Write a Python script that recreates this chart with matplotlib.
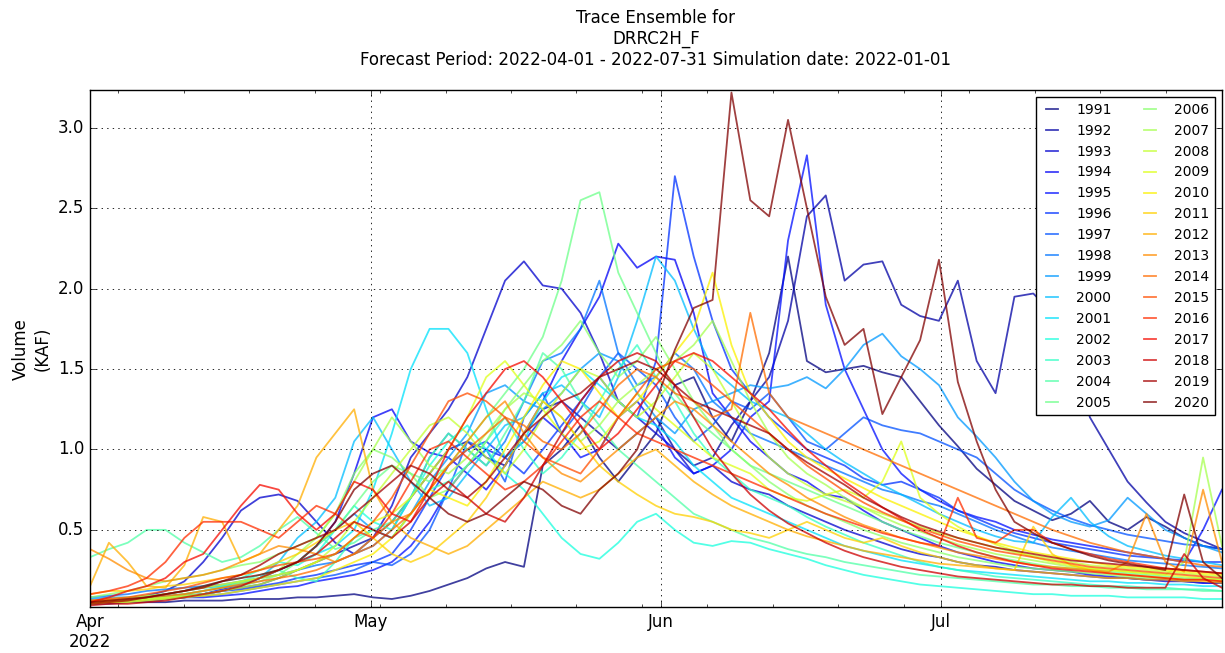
import numpy as np
import pandas as pd
import matplotlib
matplotlib.use('agg')
import matplotlib.pyplot as plt
import matplotlib.dates as mdates

# values every ~2 days from 2022-04-01 to 2022-07-31 (61 points)
years = list(range(1991, 2021))

v1991 = [0.04, 0.04, 0.05, 0.05, 0.05, 0.06, 0.06, 0.06, 0.07, 0.07,
         0.07, 0.08, 0.08, 0.09, 0.10, 0.08, 0.07, 0.09, 0.12, 0.16,
         0.20, 0.26, 0.30, 0.27, 0.90, 1.00, 1.15, 0.95, 0.80, 0.95,
         1.10, 1.40, 1.45, 1.20, 1.05, 1.30, 1.60, 2.20, 1.55, 1.48,
         1.50, 1.52, 1.48, 1.45, 1.30, 1.15, 1.02, 0.88, 0.78, 0.68,
         0.62, 0.56, 0.60, 0.68, 0.55, 0.50, 0.58, 0.52, 0.45, 0.40, 0.38]
v1992 = [0.06, 0.06, 0.07, 0.08, 0.08, 0.09, 0.10, 0.12, 0.14, 0.16,
         0.20, 0.25, 0.30, 0.35, 0.40, 0.45, 0.55, 0.70, 0.85, 1.00,
         1.05, 0.95, 0.90, 1.10, 1.25, 1.30, 1.20, 1.10, 1.00, 1.10,
         1.20, 1.00, 0.90, 0.95, 1.15, 1.30, 1.45, 1.80, 2.45, 2.58,
         2.05, 2.15, 2.17, 1.90, 1.83, 1.80, 2.05, 1.55, 1.35, 1.95,
         1.97, 1.85, 1.65, 1.20, 1.00, 0.80, 0.67, 0.55, 0.48, 0.43, 0.38]
v1993 = [0.05, 0.06, 0.07, 0.09, 0.12, 0.18, 0.30, 0.45, 0.62, 0.70,
         0.72, 0.68, 0.55, 0.42, 0.35, 0.45, 0.65, 0.95, 1.10, 1.25,
         1.45, 1.75, 2.05, 2.17, 2.02, 2.00, 1.85, 1.60, 1.30, 1.20,
         1.10, 1.00, 0.85, 0.90, 0.80, 0.75, 0.72, 0.65, 0.60, 0.55,
         0.50, 0.46, 0.42, 0.38, 0.35, 0.33, 0.30, 0.28, 0.27, 0.25,
         0.24, 0.23, 0.22, 0.21, 0.20, 0.20, 0.19, 0.18, 0.18, 0.17, 0.17]
v1994 = [0.04, 0.05, 0.05, 0.06, 0.07, 0.08, 0.10, 0.13, 0.15, 0.20,
         0.25, 0.30, 0.40, 0.55, 0.85, 1.20, 1.25, 1.05, 0.98, 0.95,
         0.85, 0.75, 0.90, 1.10, 1.30, 1.55, 1.75, 1.95, 2.28, 2.13,
         2.20, 2.18, 1.85, 1.35, 1.20, 1.05, 0.95, 0.85, 0.80, 0.72,
         0.70, 0.62, 0.55, 0.50, 0.45, 0.40, 0.36, 0.33, 0.30, 0.28,
         0.26, 0.25, 0.24, 0.22, 0.21, 0.20, 0.19, 0.19, 0.18, 0.17, 0.17]
v1995 = [0.05, 0.05, 0.06, 0.06, 0.07, 0.08, 0.08, 0.09, 0.10, 0.12,
         0.14, 0.15, 0.18, 0.20, 0.22, 0.25, 0.30, 0.40, 0.55, 0.75,
         0.90, 1.00, 0.95, 1.05, 1.20, 1.10, 0.95, 1.00, 1.20, 1.30,
         1.15, 0.95, 0.85, 0.90, 1.00, 1.20, 1.30, 2.30, 2.83, 1.90,
         1.50, 1.25, 1.00, 0.85, 0.75, 0.68, 0.62, 0.58, 0.55, 0.50,
         0.47, 0.44, 0.42, 0.40, 0.38, 0.36, 0.34, 0.32, 0.30, 0.50, 0.75]
v1996 = [0.06, 0.06, 0.07, 0.08, 0.08, 0.09, 0.10, 0.12, 0.13, 0.15,
         0.17, 0.20, 0.22, 0.25, 0.28, 0.30, 0.35, 0.50, 0.70, 0.90,
         1.00, 1.05, 0.95, 0.85, 1.00, 1.15, 1.30, 1.45, 1.30, 1.20,
         1.55, 2.70, 2.20, 1.80, 1.50, 1.35, 1.20, 1.10, 1.00, 0.95,
         0.90, 0.82, 0.78, 0.80, 0.75, 0.70, 0.62, 0.57, 0.52, 0.48,
         0.45, 0.42, 0.40, 0.38, 0.36, 0.34, 0.33, 0.32, 0.31, 0.30, 0.30]
v1997 = [0.04, 0.05, 0.06, 0.06, 0.07, 0.08, 0.09, 0.10, 0.12, 0.14,
         0.16, 0.18, 0.20, 0.22, 0.25, 0.30, 0.28, 0.35, 0.50, 0.75,
         1.05, 1.00, 0.80, 1.20, 1.35, 1.10, 1.25, 1.45, 1.60, 1.50,
         1.40, 1.20, 1.05, 1.15, 1.30, 1.25, 1.35, 1.20, 1.05, 1.00,
         1.10, 1.20, 1.15, 1.12, 1.10, 1.05, 1.00, 0.95, 0.85, 0.75,
         0.68, 0.62, 0.57, 0.53, 0.50, 0.47, 0.45, 0.43, 0.41, 0.40, 0.38]
v1998 = [0.08, 0.09, 0.10, 0.12, 0.13, 0.14, 0.15, 0.16, 0.18, 0.20,
         0.22, 0.25, 0.28, 0.30, 0.35, 0.40, 0.50, 0.70, 0.95, 1.10,
         1.00, 0.90, 1.05, 1.30, 1.55, 1.60, 1.75, 2.05, 1.60, 1.40,
         1.45, 1.60, 1.50, 1.30, 1.20, 1.10, 1.05, 1.00, 0.95, 0.90,
         0.85, 0.80, 0.75, 0.72, 0.68, 0.65, 0.60, 0.55, 0.50, 0.46,
         0.42, 0.39, 0.37, 0.35, 0.33, 0.31, 0.30, 0.29, 0.28, 0.27, 0.26]
v1999 = [0.07, 0.08, 0.08, 0.09, 0.10, 0.12, 0.14, 0.15, 0.17, 0.20,
         0.25, 0.30, 0.40, 0.50, 0.60, 0.50, 0.45, 0.60, 0.80, 0.95,
         1.10, 1.35, 1.40, 1.30, 1.25, 1.35, 1.50, 1.60, 1.55, 1.35,
         1.20, 1.10, 1.25, 1.30, 1.35, 1.40, 1.38, 1.40, 1.45, 1.38,
         1.50, 1.65, 1.72, 1.58, 1.50, 1.40, 1.20, 1.08, 0.95, 0.80,
         0.68, 0.60, 0.55, 0.52, 0.56, 0.70, 0.60, 0.50, 0.45, 0.40, 0.36]
v2000 = [0.05, 0.06, 0.07, 0.08, 0.09, 0.10, 0.12, 0.14, 0.16, 0.20,
         0.30, 0.45, 0.55, 0.70, 1.05, 1.20, 1.00, 0.80, 0.65, 0.70,
         0.85, 1.00, 1.15, 1.20, 1.35, 1.40, 1.30, 1.20, 1.45, 1.80,
         2.20, 2.05, 1.75, 1.50, 1.40, 1.30, 1.25, 1.20, 1.10, 1.00,
         0.92, 0.85, 0.78, 0.72, 0.66, 0.60, 0.55, 0.50, 0.46, 0.43,
         0.42, 0.58, 0.70, 0.55, 0.46, 0.40, 0.37, 0.34, 0.32, 0.30, 0.28]
v2001 = [0.04, 0.05, 0.05, 0.06, 0.07, 0.08, 0.10, 0.12, 0.15, 0.20,
         0.25, 0.30, 0.35, 0.40, 0.50, 0.75, 1.10, 1.50, 1.75, 1.75,
         1.60, 1.25, 0.95, 1.05, 1.30, 1.45, 1.50, 1.40, 1.30, 1.20,
         1.15, 1.05, 0.90, 0.80, 0.70, 0.65, 0.60, 0.55, 0.50, 0.45,
         0.40, 0.37, 0.34, 0.31, 0.29, 0.27, 0.25, 0.24, 0.23, 0.22,
         0.21, 0.20, 0.19, 0.18, 0.18, 0.17, 0.17, 0.16, 0.16, 0.15, 0.15]
v2002 = [0.05, 0.06, 0.07, 0.08, 0.10, 0.12, 0.15, 0.18, 0.20, 0.25,
         0.30, 0.28, 0.35, 0.50, 0.65, 0.55, 0.50, 0.70, 0.90, 1.05,
         1.15, 1.00, 0.85, 0.75, 0.60, 0.45, 0.35, 0.32, 0.42, 0.55,
         0.60, 0.50, 0.42, 0.40, 0.43, 0.42, 0.38, 0.35, 0.32, 0.28,
         0.25, 0.22, 0.20, 0.18, 0.16, 0.15, 0.14, 0.13, 0.12, 0.11,
         0.10, 0.10, 0.09, 0.09, 0.09, 0.08, 0.08, 0.08, 0.08, 0.07, 0.07]
v2003 = [0.05, 0.06, 0.07, 0.08, 0.08, 0.10, 0.12, 0.15, 0.18, 0.22,
         0.25, 0.20, 0.18, 0.30, 0.45, 0.50, 0.45, 0.60, 0.75, 0.80,
         0.90, 1.05, 1.20, 1.00, 0.85, 0.95, 1.10, 1.30, 1.50, 1.65,
         1.45, 1.30, 1.10, 0.95, 0.85, 0.75, 0.70, 0.65, 0.58, 0.52,
         0.47, 0.42, 0.38, 0.34, 0.30, 0.27, 0.25, 0.23, 0.21, 0.20,
         0.19, 0.18, 0.17, 0.16, 0.15, 0.15, 0.14, 0.14, 0.13, 0.13, 0.12]
v2004 = [0.33, 0.38, 0.42, 0.50, 0.50, 0.42, 0.36, 0.30, 0.33, 0.40,
         0.50, 0.58, 0.48, 0.38, 0.42, 0.50, 0.55, 0.70, 0.95, 1.10,
         1.00, 0.90, 1.10, 1.30, 1.60, 1.50, 1.30, 1.15, 1.00, 0.90,
         0.80, 0.70, 0.60, 0.55, 0.50, 0.45, 0.42, 0.38, 0.35, 0.33,
         0.30, 0.28, 0.26, 0.24, 0.22, 0.21, 0.20, 0.19, 0.18, 0.17,
         0.16, 0.16, 0.15, 0.15, 0.14, 0.14, 0.13, 0.13, 0.13, 0.12, 0.12]
v2005 = [0.05, 0.05, 0.06, 0.07, 0.08, 0.09, 0.10, 0.12, 0.15, 0.18,
         0.22, 0.30, 0.40, 0.50, 0.65, 0.80, 0.90, 0.85, 0.80, 0.90,
         1.05, 1.20, 1.35, 1.50, 1.70, 2.05, 2.55, 2.60, 2.10, 1.85,
         1.60, 1.35, 1.20, 1.10, 1.00, 0.90, 0.85, 0.80, 0.75, 0.70,
         0.65, 0.60, 0.55, 0.50, 0.46, 0.42, 0.39, 0.36, 0.33, 0.31,
         0.29, 0.27, 0.26, 0.25, 0.24, 0.23, 0.22, 0.21, 0.20, 0.20, 0.19]
v2006 = [0.08, 0.10, 0.12, 0.15, 0.18, 0.20, 0.22, 0.25, 0.28, 0.30,
         0.35, 0.40, 0.45, 0.60, 0.85, 1.00, 0.95, 0.85, 0.70, 0.75,
         0.90, 1.05, 1.25, 1.40, 1.55, 1.65, 1.80, 1.60, 1.45, 1.55,
         1.70, 1.50, 1.30, 1.15, 1.00, 0.90, 0.80, 0.72, 0.65, 0.60,
         0.55, 0.50, 0.46, 0.42, 0.39, 0.36, 0.33, 0.31, 0.29, 0.27,
         0.26, 0.25, 0.24, 0.23, 0.22, 0.21, 0.20, 0.20, 0.19, 0.19, 0.18]
v2007 = [0.04, 0.05, 0.06, 0.07, 0.08, 0.10, 0.12, 0.14, 0.17, 0.20,
         0.25, 0.35, 0.45, 0.60, 0.80, 1.00, 1.20, 1.05, 0.90, 0.85,
         0.95, 1.10, 1.25, 1.35, 1.30, 1.20, 1.05, 1.15, 1.30, 1.40,
         1.50, 1.55, 1.65, 1.80, 1.55, 1.30, 1.10, 0.95, 0.85, 0.78,
         0.70, 0.64, 0.58, 0.53, 0.49, 0.45, 0.41, 0.38, 0.35, 0.33,
         0.31, 0.29, 0.27, 0.26, 0.25, 0.24, 0.23, 0.22, 0.30, 0.95, 0.40]
v2008 = [0.05, 0.06, 0.06, 0.07, 0.08, 0.09, 0.10, 0.12, 0.14, 0.16,
         0.20, 0.25, 0.30, 0.40, 0.55, 0.70, 0.85, 1.00, 1.15, 1.20,
         1.10, 0.95, 0.85, 1.00, 1.20, 1.35, 1.50, 1.45, 1.30, 1.20,
         1.30, 1.45, 1.60, 1.50, 1.30, 1.10, 0.95, 0.85, 0.78, 0.72,
         0.68, 0.64, 0.60, 0.56, 0.52, 0.48, 0.45, 0.42, 0.39, 0.36,
         0.34, 0.32, 0.30, 0.28, 0.27, 0.26, 0.25, 0.24, 0.23, 0.22, 0.21]
v2009 = [0.06, 0.07, 0.08, 0.09, 0.10, 0.12, 0.14, 0.16, 0.18, 0.20,
         0.22, 0.25, 0.30, 0.35, 0.45, 0.55, 0.60, 0.70, 0.85, 1.00,
         1.20, 1.45, 1.55, 1.40, 1.25, 1.10, 1.00, 1.05, 1.20, 1.35,
         1.25, 1.15, 1.05, 0.95, 0.90, 0.85, 0.75, 0.70, 0.68, 0.72,
         0.75, 0.70, 0.80, 1.05, 0.70, 0.60, 0.52, 0.46, 0.41, 0.37,
         0.33, 0.30, 0.28, 0.26, 0.25, 0.24, 0.23, 0.22, 0.21, 0.20, 0.19]
v2010 = [0.04, 0.05, 0.05, 0.06, 0.07, 0.08, 0.09, 0.10, 0.12, 0.14,
         0.16, 0.18, 0.20, 0.25, 0.30, 0.35, 0.45, 0.60, 0.75, 0.70,
         0.65, 0.80, 1.00, 1.20, 1.40, 1.55, 1.50, 1.35, 1.20, 1.30,
         1.45, 1.60, 1.75, 2.10, 1.65, 1.35, 1.20, 1.05, 0.95, 0.88,
         0.82, 0.76, 0.70, 0.65, 0.60, 0.55, 0.50, 0.46, 0.42, 0.39,
         0.36, 0.34, 0.32, 0.30, 0.28, 0.27, 0.26, 0.25, 0.24, 0.23, 0.22]
v2011 = [0.10, 0.12, 0.12, 0.13, 0.15, 0.16, 0.18, 0.20, 0.22, 0.25,
         0.30, 0.35, 0.42, 0.50, 0.55, 0.45, 0.35, 0.30, 0.35, 0.45,
         0.55, 0.70, 0.90, 1.10, 1.30, 1.20, 1.05, 0.90, 0.80, 0.72,
         0.65, 0.60, 0.58, 0.55, 0.50, 0.48, 0.45, 0.50, 0.55, 0.50,
         0.45, 0.42, 0.45, 0.40, 0.36, 0.33, 0.30, 0.28, 0.26, 0.25,
         0.52, 0.35, 0.28, 0.25, 0.23, 0.22, 0.21, 0.20, 0.19, 0.19, 0.18]
v2012 = [0.15, 0.42, 0.30, 0.15, 0.14, 0.28, 0.58, 0.55, 0.30, 0.35,
         0.50, 0.65, 0.95, 1.10, 1.25, 0.75, 0.55, 0.45, 0.40, 0.35,
         0.40, 0.50, 0.60, 0.70, 0.80, 0.75, 0.70, 0.75, 0.85, 0.95,
         1.00, 0.90, 0.80, 0.72, 0.65, 0.60, 0.55, 0.50, 0.46, 0.43,
         0.40, 0.37, 0.35, 0.33, 0.31, 0.29, 0.28, 0.27, 0.26, 0.25,
         0.24, 0.23, 0.22, 0.21, 0.20, 0.20, 0.19, 0.19, 0.18, 0.18, 0.17]
v2013 = [0.38, 0.32, 0.25, 0.20, 0.18, 0.20, 0.22, 0.25, 0.30, 0.35,
         0.40, 0.38, 0.35, 0.30, 0.35, 0.45, 0.55, 0.60, 0.75, 0.90,
         1.05, 1.20, 1.30, 1.10, 0.95, 0.85, 0.80, 0.90, 1.00, 1.10,
         1.20, 1.30, 1.25, 1.15, 1.05, 0.95, 0.85, 0.78, 0.70, 0.64,
         0.58, 0.53, 0.49, 0.45, 0.42, 0.39, 0.36, 0.34, 0.32, 0.30,
         0.28, 0.27, 0.26, 0.25, 0.24, 0.30, 0.60, 0.30, 0.24, 0.75, 0.30]
v2014 = [0.05, 0.06, 0.07, 0.08, 0.09, 0.10, 0.12, 0.14, 0.16, 0.18,
         0.20, 0.22, 0.25, 0.30, 0.35, 0.40, 0.50, 0.60, 0.75, 0.90,
         1.00, 1.10, 1.20, 1.15, 1.05, 1.00, 1.10, 1.25, 1.40, 1.50,
         1.45, 1.35, 1.30, 1.20, 1.25, 1.85, 1.35, 1.20, 1.15, 1.10,
         1.05, 1.00, 0.95, 0.90, 0.85, 0.80, 0.75, 0.70, 0.65, 0.60,
         0.55, 0.50, 0.46, 0.42, 0.39, 0.36, 0.34, 0.32, 0.30, 0.28, 0.27]
v2015 = [0.06, 0.07, 0.08, 0.10, 0.12, 0.14, 0.17, 0.20, 0.22, 0.25,
         0.28, 0.30, 0.32, 0.35, 0.45, 0.55, 0.70, 0.90, 1.10, 1.30,
         1.35, 1.30, 1.20, 1.05, 0.95, 0.90, 0.85, 1.00, 1.20, 1.35,
         1.50, 1.55, 1.50, 1.40, 1.30, 1.20, 1.10, 1.00, 0.90, 0.82,
         0.74, 0.67, 0.61, 0.56, 0.51, 0.47, 0.43, 0.40, 0.37, 0.35,
         0.33, 0.31, 0.29, 0.27, 0.26, 0.25, 0.24, 0.23, 0.22, 0.21, 0.20]
v2016 = [0.10, 0.12, 0.15, 0.20, 0.30, 0.45, 0.55, 0.55, 0.55, 0.50,
         0.45, 0.55, 0.65, 0.60, 0.50, 0.45, 0.60, 0.80, 1.00, 1.05,
         0.95, 0.85, 0.75, 0.80, 0.90, 1.05, 1.20, 1.30, 1.20, 1.10,
         1.05, 1.00, 0.95, 0.90, 0.85, 0.80, 0.75, 0.70, 0.65, 0.60,
         0.56, 0.52, 0.48, 0.45, 0.42, 0.40, 0.70, 0.45, 0.42, 0.50,
         0.50, 0.42, 0.38, 0.35, 0.32, 0.30, 0.28, 0.26, 0.25, 0.24, 0.23]
v2017 = [0.05, 0.08, 0.12, 0.15, 0.20, 0.30, 0.35, 0.50, 0.65, 0.78,
         0.75, 0.60, 0.50, 0.60, 0.80, 0.75, 0.60, 0.55, 0.75, 1.00,
         1.20, 1.35, 1.50, 1.55, 1.45, 1.30, 1.15, 1.00, 1.10, 1.25,
         1.40, 1.55, 1.60, 1.55, 1.45, 1.35, 1.25, 1.12, 1.00, 0.90,
         0.80, 0.72, 0.64, 0.57, 0.50, 0.45, 0.40, 0.36, 0.33, 0.30,
         0.28, 0.26, 0.25, 0.24, 0.23, 0.22, 0.21, 0.20, 0.19, 0.19, 0.18]
v2018 = [0.03, 0.04, 0.04, 0.05, 0.06, 0.08, 0.10, 0.12, 0.15, 0.20,
         0.25, 0.30, 0.35, 0.45, 0.55, 0.50, 0.45, 0.55, 0.70, 0.80,
         0.70, 0.60, 0.55, 0.70, 0.90, 1.10, 1.30, 1.45, 1.55, 1.60,
         1.55, 1.40, 1.20, 1.00, 0.85, 0.72, 0.62, 0.54, 0.48, 0.42,
         0.37, 0.33, 0.30, 0.27, 0.25, 0.23, 0.21, 0.20, 0.19, 0.18,
         0.17, 0.16, 0.16, 0.15, 0.15, 0.14, 0.14, 0.14, 0.35, 0.20, 0.14]
v2019 = [0.04, 0.05, 0.06, 0.08, 0.10, 0.12, 0.14, 0.18, 0.22, 0.28,
         0.35, 0.40, 0.45, 0.50, 0.60, 0.70, 0.80, 0.90, 0.85, 0.75,
         0.70, 0.80, 0.95, 1.10, 1.20, 1.30, 1.35, 1.45, 1.50, 1.55,
         1.50, 1.40, 1.30, 1.25, 1.20, 1.15, 1.10, 1.00, 0.92, 0.85,
         0.78, 0.70, 0.64, 0.58, 0.53, 0.49, 0.45, 0.42, 0.39, 0.37,
         0.35, 0.33, 0.31, 0.30, 0.29, 0.28, 0.27, 0.26, 0.25, 0.24, 0.23]
v2020 = [0.05, 0.06, 0.07, 0.08, 0.10, 0.12, 0.15, 0.18, 0.20, 0.22,
         0.25, 0.30, 0.40, 0.55, 0.75, 0.85, 0.90, 0.80, 0.70, 0.60,
         0.55, 0.60, 0.70, 0.80, 0.75, 0.65, 0.60, 0.75, 0.85, 1.00,
         1.30, 1.62, 1.88, 1.93, 3.22, 2.55, 2.45, 3.05, 2.50, 1.95,
         1.65, 1.75, 1.22, 1.45, 1.68, 2.18, 1.42, 1.05, 0.75, 0.55,
         0.48, 0.42, 0.38, 0.34, 0.31, 0.29, 0.27, 0.25, 0.72, 0.30, 0.20]

series = [v1991, v1992, v1993, v1994, v1995, v1996, v1997, v1998, v1999, v2000,
          v2001, v2002, v2003, v2004, v2005, v2006, v2007, v2008, v2009, v2010,
          v2011, v2012, v2013, v2014, v2015, v2016, v2017, v2018, v2019, v2020]

dates = pd.date_range('2022-04-01', '2022-07-31', periods=len(v1991))

plt.style.use('classic')
plt.rcParams['figure.facecolor'] = 'white'
plt.rcParams['savefig.facecolor'] = 'white'

fig = plt.figure(figsize=(12.25, 6.53), dpi=100)
ax = fig.add_axes([0.0735, 0.0704, 0.924, 0.7916])

cmap = plt.cm.jet
for i, (yr, vals) in enumerate(zip(years, series)):
    ax.plot(dates, vals, color=cmap(i / (len(years) - 1)), alpha=0.75,
            lw=1.3, label=str(yr))

ax.set_xlim(pd.Timestamp('2022-04-01'), pd.Timestamp('2022-07-31'))
ax.set_ylim(0.02, 3.235)
ax.set_yticks([0.5, 1.0, 1.5, 2.0, 2.5, 3.0])

ax.xaxis.set_major_locator(mdates.MonthLocator())
ax.xaxis.set_minor_locator(mdates.WeekdayLocator(byweekday=mdates.MO))


def fmt(x, pos):
    d = mdates.num2date(x)
    if d.month == 4:
        return d.strftime('%b\n%Y')
    return d.strftime('%b')


ax.xaxis.set_major_formatter(plt.FuncFormatter(fmt))
ax.tick_params(labelsize=12)
ax.grid(True, which='major', linestyle=':', color='black', lw=0.6)

ax.set_ylabel('Volume\n(KAF)', fontsize=12)
ax.set_title('Trace Ensemble for\nDRRC2H_F\n'
             'Forecast Period: 2022-04-01 - 2022-07-31 Simulation date: 2022-01-01',
             fontsize=12, pad=18)

ax.legend(loc='upper right', ncol=2, fontsize=10, handlelength=1.5,
          handletextpad=1.0, columnspacing=2.0, labelspacing=0.5,
          borderaxespad=0.5, fancybox=False)

fig.savefig('out.png', dpi=100)
